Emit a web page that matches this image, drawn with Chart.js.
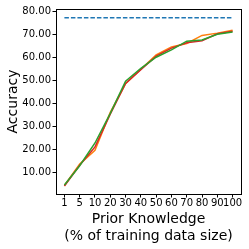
<!DOCTYPE html>
<html>
<head>
<meta charset="utf-8">
<script src="https://cdn.jsdelivr.net/npm/chart.js@4"></script>
<style>
  html, body { margin: 0; padding: 0; background: #fff; }
  #wrap { width: 249px; height: 249px; }
</style>
</head>
<body>
<div id="wrap"><canvas id="accChart" width="249" height="249"></canvas></div>
<script>
var categories = ["1", "5", "10", "20", "30", "40", "50", "60", "70", "80", "90", "100"];
var baselineAcc = [77.2, 77.2, 77.2, 77.2, 77.2, 77.2, 77.2, 77.2, 77.2, 77.2, 77.2, 77.2];
var orangeAcc = [4.2, 13.5, 19.5, 36.0, 48.5, 54.8, 61.0, 64.5, 66.0, 69.5, 70.5, 71.8];
var greenAcc = [4.4, 12.8, 22.7, 35.6, 49.6, 55.2, 60.0, 63.2, 67.0, 67.5, 70.0, 71.0];
var redAcc = [4.0, 13.0, 21.0, 35.2, 48.6, 54.6, 60.5, 64.0, 66.3, 67.2, 70.2, 71.3];
var yTicks = [10, 20, 30, 40, 50, 60, 70, 80];

function toPoints(arr) {
  return arr.map(function (v, i) { return { x: i, y: v }; });
}

var fontFamily = "'DejaVu Sans', sans-serif";

// full box round the plot like matplotlib spines
var boxPlugin = {
  id: "box",
  afterDraw: function (chart) {
    var a = chart.chartArea;
    var ctx = chart.ctx;
    ctx.save();
    ctx.strokeStyle = "#000";
    ctx.lineWidth = 1;
    ctx.strokeRect(Math.round(a.left) + 0.5, Math.round(a.top) + 0.5,
      Math.round(a.right - a.left), Math.round(a.bottom - a.top));
    ctx.restore();
  }
};

var ctx = document.getElementById("accChart");

new Chart(ctx, {
  type: "line",
  data: {
    datasets: [
      {
        label: "baseline",
        data: toPoints(baselineAcc),
        borderColor: "#1f77b4",
        borderWidth: 1.5,
        borderDash: [4.5, 2],
        pointRadius: 0,
        fill: false,
        order: 4,
      },
      {
        label: "orange",
        data: toPoints(orangeAcc),
        borderColor: "#ff7f0e",
        borderWidth: 1.5,
        pointRadius: 0,
        fill: false,
        order: 3,
      },
      {
        label: "red",
        data: toPoints(redAcc),
        borderColor: "#d62728",
        borderWidth: 1.5,
        pointRadius: 0,
        fill: false,
        order: 2,
      },
      {
        label: "green",
        data: toPoints(greenAcc),
        borderColor: "#2ca02c",
        borderWidth: 1.5,
        pointRadius: 0,
        fill: false,
        order: 1,
      },
    ],
  },
  options: {
    responsive: false,
    animation: false,
    devicePixelRatio: 1,
    layout: { padding: { top: 9, right: 8, left: 0, bottom: 0 } },
    plugins: {
      legend: { display: false },
      tooltip: { enabled: false },
    },
    scales: {
      x: {
        type: "linear",
        min: -0.55,
        max: 11.55,
        afterBuildTicks: function (scale) {
          scale.ticks = categories.map(function (_, i) { return { value: i }; });
        },
        afterFit: function (scale) { scale.height = 55; },
        ticks: {
          color: "#000",
          font: { family: fontFamily, size: 10 },
          padding: 0,
          maxRotation: 0,
          autoSkip: false,
          callback: function (v) { return categories[v]; },
        },
        grid: { display: true, drawOnChartArea: false, drawTicks: true, tickLength: 3.5, color: "#000" },
        border: { display: true, color: "#000" },
        title: {
          display: true,
          text: ["Prior Knowledge", "(% of training data size)"],
          color: "#000",
          font: { family: fontFamily, size: 14, lineHeight: 1.15 },
          padding: { top: 0, bottom: 5 },
        },
      },
      y: {
        type: "linear",
        min: 0.5,
        max: 81,
        afterBuildTicks: function (scale) {
          scale.ticks = yTicks.map(function (v) { return { value: v }; });
        },
        afterFit: function (scale) { scale.width = 56; },
        ticks: {
          color: "#000",
          font: { family: fontFamily, size: 10 },
          padding: 1.5,
          callback: function (v) { return Number(v).toFixed(2); },
        },
        grid: { display: true, drawOnChartArea: false, drawTicks: true, tickLength: 3.5, color: "#000" },
        border: { display: true, color: "#000" },
        title: {
          display: true,
          text: "Accuracy",
          color: "#000",
          font: { family: fontFamily, size: 14 },
          padding: { top: 5, bottom: 0 },
        },
      },
    },
  },
  plugins: [boxPlugin],
});
</script>
</body>
</html>
